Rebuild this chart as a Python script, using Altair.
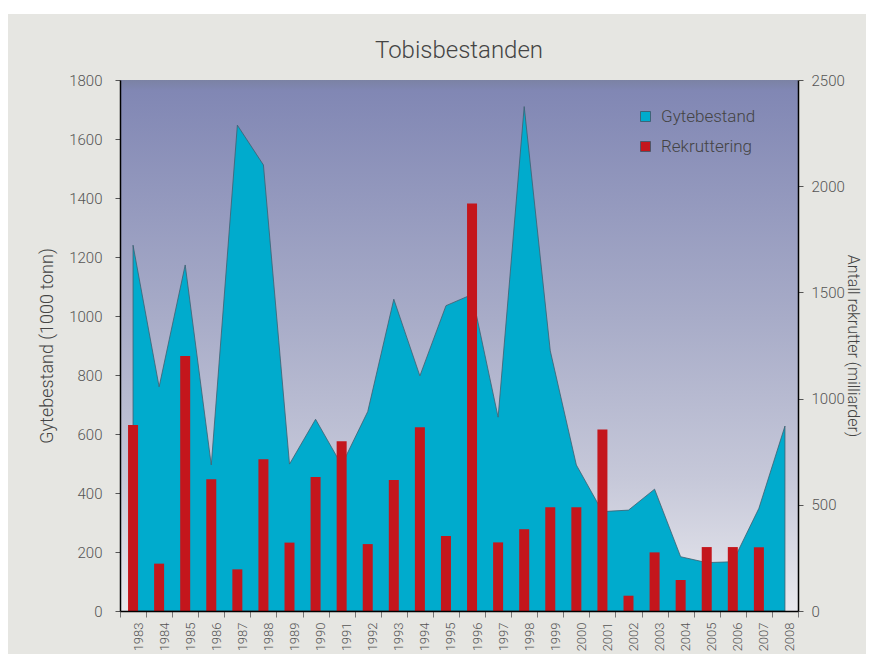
import altair as alt
import pandas as pd

years = [str(y) for y in range(1983, 2009)]
gytebestand = [1240, 760, 1173, 495, 1647, 1512, 498, 650, 495, 676, 1057, 797, 1035,
               1073, 657, 1710, 882, 495, 337, 342, 413, 184, 164, 167, 348, 627]
rekruttering = [876, 223, 1200, 620, 196, 714, 322, 631, 799, 315, 617, 865, 353,
                1918, 323, 385, 488, 488, 854, 72, 276, 146, 301, 301, 300, None]

df = pd.DataFrame({"year": years, "gyte": gytebestand, "rekr": rekruttering})

FONT = "Roboto"
W, H = 678, 531

x_enc = alt.X(
    "year:N",
    title=None,
    sort=years,
    scale=alt.Scale(paddingInner=0, paddingOuter=0),
    axis=alt.Axis(labelAngle=270, labelFontSize=13, labelFont=FONT, labelColor="#555",
                  labelFontWeight=300,
                  tickBand="extent", tickSize=6, tickColor="#777", labelPadding=5,
                  domainColor="#000", domainWidth=1.5, labelOffset=5, zindex=1),
)

color_scale = alt.Scale(domain=["Gytebestand", "Rekruttering"], range=["#00abcd", "#c4161c"])
legend = alt.Legend(title=None, orient="none", legendX=517, legendY=28, symbolType="square",
                    symbolSize=100, labelFont=FONT, labelFontSize=17, labelColor="#444",
                    labelFontWeight=300,
                    rowPadding=12, symbolStrokeColor="#3c5566", symbolStrokeWidth=0.8,
                    padding=0, labelOffset=7)

panel = alt.Chart(alt.Data(values=[{"a": 1}])).mark_rect(fill="#e6e6e2").encode(
    x=alt.value(-112), x2=alt.value(W + 68), y=alt.value(-66), y2=alt.value(H + 43)
)

plotbg = alt.Chart(alt.Data(values=[{"a": 1}])).mark_rect(
    fill=alt.Gradient(
        gradient="linear", x1=0, x2=0, y1=0, y2=1,
        stops=[
            alt.GradientStop(offset=0, color="#7b82a4"),
            alt.GradientStop(offset=0.02, color="#8187b4"),
            alt.GradientStop(offset=0.45, color="#a8acc8"),
            alt.GradientStop(offset=0.75, color="#c6c8d9"),
            alt.GradientStop(offset=1, color="#e9e9ee"),
        ],
    )
).encode(x=alt.value(0), x2=alt.value(W), y=alt.value(0), y2=alt.value(H))

area = alt.Chart(df).transform_calculate(series="'Gytebestand'").mark_area(
    stroke="#3f5f70", strokeWidth=0.8, opacity=1
).encode(
    x=x_enc,
    y=alt.Y("gyte:Q", title="Gytebestand (1000 tonn)",
            scale=alt.Scale(domain=[0, 1800], nice=False),
            axis=alt.Axis(orient="left", values=list(range(0, 1801, 200)), grid=False,
                          format="d",
                          labelFont=FONT, labelFontSize=15, labelColor="#555",
                          labelFontWeight=300,
                          tickSize=5, tickColor="#555", labelPadding=13,
                          domainColor="#000", domainWidth=1.5,
                          titleFont=FONT, titleFontSize=18, titleFontWeight=300,
                          titleColor="#444", titlePadding=12, zindex=1)),
    color=alt.Color("series:N", scale=color_scale, legend=legend),
)

bars = alt.Chart(df).transform_filter("datum.rekr != null").transform_calculate(
    series="'Rekruttering'"
).mark_bar(size=10).encode(
    x=x_enc,
    y=alt.Y("rekr:Q", title="Antall rekrutter (milliarder)",
            scale=alt.Scale(domain=[0, 2500], nice=False),
            axis=alt.Axis(orient="right", values=list(range(0, 2501, 500)), grid=False,
                          format="d",
                          labelFont=FONT, labelFontSize=15, labelColor="#555",
                          labelFontWeight=300,
                          tickSize=5, tickColor="#555", labelPadding=8,
                          domainColor="#000", domainWidth=1.5,
                          titleFont=FONT, titleFontSize=16, titleFontWeight=300,
                          titleColor="#444", titlePadding=0, zindex=1)),
    color=alt.Color("series:N", scale=color_scale, legend=legend),
)

chart = alt.layer(panel, plotbg, area, bars).resolve_scale(y="independent").properties(
    width=W, height=H,
    title=alt.TitleParams("Tobisbestanden", font=FONT, fontSize=24, fontWeight=300,
                          color="#444", anchor="middle", frame="group", offset=-68,
                          baseline="alphabetic", zindex=1),
    autosize=alt.AutoSizeParams(type="none"),
    padding={"left": 112, "top": 72, "right": 68, "bottom": 43},
    background="white",
).configure_view(stroke=None)

chart.save("out.html", embed_options={"renderer": "svg", "actions": False})
